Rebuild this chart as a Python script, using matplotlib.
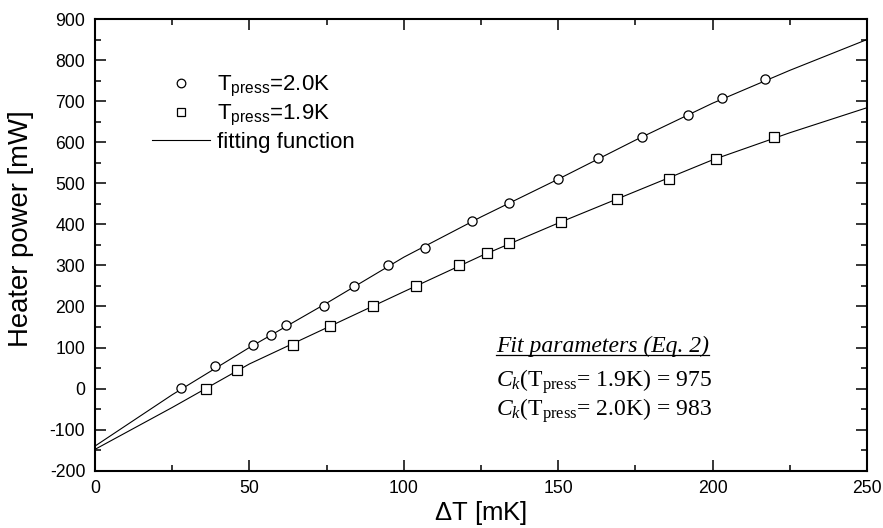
import numpy as np
import matplotlib
matplotlib.use("Agg")
import matplotlib.pyplot as plt
from matplotlib.ticker import MultipleLocator
from matplotlib.lines import Line2D

# measured points, T_press = 2.0 K (circles)
dT_20 = [28, 39, 51, 57, 62, 74, 84, 95, 107, 122, 134, 150, 163, 177, 192, 203, 217]
P_20 = [1, 54, 106, 130, 154, 202, 250, 300, 343, 408, 452, 511, 561, 613, 666, 707, 754]

# measured points, T_press = 1.9 K (squares)
dT_19 = [36, 46, 64, 76, 90, 104, 118, 127, 134, 151, 169, 186, 201, 220]
P_19 = [0, 45, 106, 152, 202, 250, 300, 331, 354, 406, 461, 511, 560, 612]

# fitting function
fit_dT = [0, 25, 50, 75, 100, 125, 150, 175, 200, 225, 250]
fit_20 = [-140, -15, 100, 208, 320, 418, 510, 605, 695, 775, 850]
fit_19 = [-148, -46, 60, 148, 236, 323, 403, 480, 557, 623, 684]

plt.rcParams['font.family'] = ['Liberation Sans', 'DejaVu Sans']
plt.rcParams['mathtext.fontset'] = 'custom'
plt.rcParams['mathtext.rm'] = 'Liberation Serif'
plt.rcParams['mathtext.it'] = 'Liberation Serif:italic'
plt.rcParams['mathtext.default'] = 'regular'
plt.rcParams['axes.unicode_minus'] = False

fig = plt.figure(figsize=(8.83, 5.28), dpi=100)
ax = fig.add_axes([0.1076, 0.1085, 0.8743, 0.8555])

ax.plot(fit_dT, fit_20, color='black', lw=0.8, zorder=2)
ax.plot(fit_dT, fit_19, color='black', lw=0.8, zorder=2)
ax.plot(dT_20, P_20, 'o', ms=6.6, mfc='white', mec='black', mew=0.9, zorder=3)
ax.plot(dT_19, P_19, 's', ms=6.6, mfc='white', mec='black', mew=0.9, zorder=3)

ax.set_xlim(0, 250)
ax.set_ylim(-200, 900)
ax.xaxis.set_major_locator(MultipleLocator(50))
ax.xaxis.set_minor_locator(MultipleLocator(25))
ax.yaxis.set_major_locator(MultipleLocator(100))
ax.yaxis.set_minor_locator(MultipleLocator(50))
ax.tick_params(which='both', direction='in', top=True, right=True, width=1.1,
               labelsize=12.7, pad=7)
ax.tick_params(which='major', length=7.7)
ax.tick_params(which='minor', length=4)
for s in ax.spines.values():
    s.set_linewidth(1.5)

ax.set_xlabel(r'$\mathregular{\Delta}$T [mK]', fontsize=18.5, labelpad=1)
ax.set_ylabel('Heater power [mW]', fontsize=19.8)
ax.yaxis.set_label_coords(-0.079, 0.535)

handles = [
    Line2D([], [], ls='none', marker='o', ms=6.2, mfc='white', mec='black', mew=0.9),
    Line2D([], [], ls='none', marker='s', ms=6.2, mfc='white', mec='black', mew=0.9),
    Line2D([], [], color='black', lw=0.8),
]
labels = [r'T$_{press}$=2.0K', r'T$_{press}$=1.9K', 'fitting function']
ax.legend(handles, labels, loc='upper left', bbox_to_anchor=(0.074, 0.878),
          frameon=False, fontsize=16, handlelength=2.6, handletextpad=0.3,
          borderpad=0, borderaxespad=0, labelspacing=0.17)

serif = ['Liberation Serif', 'DejaVu Serif']
head = ax.text(0.519, 0.2634, 'Fit parameters (Eq. 2)', transform=ax.transAxes,
               family=serif, style='italic', fontsize=17, va='baseline')
ax.text(0.519, 0.1853, r'$\mathit{C}_{\mathit{k}}$(T$_{press}$= 1.9K) = 975',
        transform=ax.transAxes, family=serif, fontsize=17, va='baseline')
ax.text(0.519, 0.121, r'$\mathit{C}_{\mathit{k}}$(T$_{press}$= 2.0K) = 983',
        transform=ax.transAxes, family=serif, fontsize=17, va='baseline')

# underline for the heading
fig.canvas.draw()
bb = head.get_window_extent().transformed(ax.transAxes.inverted())
ax.add_line(Line2D([bb.x0, bb.x1], [0.257, 0.257], transform=ax.transAxes,
                   color='black', lw=0.9))

fig.savefig('out.png', dpi=100)
